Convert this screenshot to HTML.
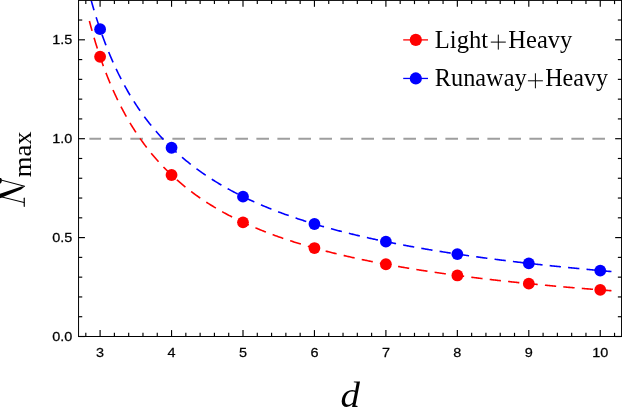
<!DOCTYPE html><html><head><meta charset="utf-8"><title>plot</title><style>html,body{margin:0;padding:0;background:#fff;}svg{display:block;}text{font-family:"Liberation Sans",sans-serif;}</style></head><body>
<svg width="622" height="408" viewBox="0 0 622 408">
<rect x="0" y="0" width="622" height="408" fill="#fff"/>
<defs><clipPath id="c"><rect x="78.55" y="0.40" width="543.00" height="336.10"/></clipPath></defs>
<line x1="89.38" y1="138.70" x2="611.47" y2="138.70" stroke="#9e9e9e" stroke-width="2.0" stroke-dasharray="12.6 8.4" stroke-dashoffset="1.0"/>
<g clip-path="url(#c)" fill="none" stroke-width="1.6">
<path d="M89.38 21.03 L90.25 24.29 L91.12 27.48 L91.99 30.60 L92.86 33.66 L93.73 36.65 L94.60 39.58 L95.47 42.45 L96.34 45.26 L97.21 48.01 L98.08 50.71 L98.95 53.36 L99.82 55.96 L100.69 58.50 L101.56 61.00 L102.43 63.45 L103.30 65.86 L104.17 68.22 L105.05 70.54 L105.92 72.81 L106.79 75.05 L107.66 77.25 L108.53 79.40 L109.40 81.53 L110.27 83.61 L111.14 85.66 L112.01 87.67 L112.88 89.66 L113.75 91.60 L114.62 93.52 L115.49 95.41 L116.36 97.26 L117.23 99.09 L118.10 100.89 L118.97 102.66 L119.84 104.40 L120.71 106.11 L121.58 107.80 L122.45 109.46 L123.32 111.10 L124.19 112.72 L125.06 114.31 L125.93 115.87 L126.80 117.42 L127.67 118.94 L128.54 120.44 L129.41 121.92 L130.28 123.38 L131.15 124.82 L132.02 126.23 L132.89 127.63 L133.76 129.01 L134.63 130.37 L135.50 131.72 L136.37 133.04 L137.24 134.35 L138.11 135.64 L138.98 136.91 L139.85 138.17 L140.72 139.41 L141.59 140.63 L142.46 141.84 L143.33 143.03 L144.20 144.21 L145.07 145.38 L145.94 146.53 L146.81 147.66 L147.68 148.78 L148.55 149.89 L149.42 150.99 L150.29 152.07 L151.16 153.14 L152.03 154.19 L152.90 155.24 L153.77 156.27 L154.64 157.29 L155.51 158.30 L156.38 159.29 L157.25 160.28 L158.12 161.25 L158.99 162.22 L159.86 163.17 L160.73 164.11 L161.60 165.04 L162.47 165.96 L163.34 166.87 L164.21 167.77 L165.08 168.66 L165.95 169.55 L166.83 170.42 L167.70 171.28 L168.57 172.14 L169.44 172.98 L170.31 173.82 L171.18 174.64 L172.05 175.46 L172.92 176.27 L173.79 177.08 L174.66 177.87 L175.53 178.66 L176.40 179.43 L177.27 180.20 L178.14 180.97 L179.01 181.72 L179.88 182.47 L180.75 183.21 L181.62 183.94 L182.49 184.67 L183.36 185.39 L184.23 186.10 L185.10 186.81 L185.97 187.51 L186.84 188.20 L187.71 188.88 L188.58 189.56 L189.45 190.24 L190.32 190.90 L191.19 191.56 L192.06 192.22 L192.93 192.87 L193.80 193.51 L194.67 194.14 L195.54 194.78 L196.41 195.40 L197.28 196.02 L198.15 196.63 L199.02 197.24 L199.89 197.85 L200.76 198.45 L201.63 199.04 L202.50 199.63 L203.37 200.21 L204.24 200.79 L205.11 201.36 L205.98 201.93 L206.85 202.49 L207.72 203.05 L208.59 203.60 L209.46 204.15 L210.33 204.70 L211.20 205.24 L212.07 205.77 L212.94 206.30 L213.81 206.83 L214.68 207.35 L215.55 207.87 L216.42 208.38 L217.29 208.89 L218.16 209.40 L219.03 209.90 L219.90 210.40 L220.77 210.89 L221.64 211.38 L222.51 211.87 L223.38 212.35 L224.25 212.83 L225.12 213.30 L225.99 213.77 L226.86 214.24 L227.74 214.71 L228.61 215.17 L229.48 215.62 L230.35 216.08 L231.22 216.53 L232.09 216.97 L232.96 217.42 L233.83 217.86 L234.70 218.29 L235.57 218.73 L236.44 219.16 L237.31 219.58 L238.18 220.01 L239.05 220.43 L239.92 220.84 L240.79 221.26 L241.66 221.67 L242.53 222.08 L243.40 222.49 L244.27 222.89 L245.14 223.29 L246.01 223.69 L246.88 224.08 L247.75 224.47 L248.62 224.86 L249.49 225.25 L250.36 225.63 L251.23 226.01 L252.10 226.39 L252.97 226.76 L253.84 227.14 L254.71 227.51 L255.58 227.88 L256.45 228.24 L257.32 228.60 L258.19 228.96 L259.06 229.32 L259.93 229.68 L260.80 230.03 L261.67 230.38 L262.54 230.73 L263.41 231.08 L264.28 231.42 L265.15 231.76 L266.02 232.10 L266.89 232.44 L267.76 232.77 L268.63 233.11 L269.50 233.44 L270.37 233.77 L271.24 234.09 L272.11 234.42 L272.98 234.74 L273.85 235.06 L274.72 235.38 L275.59 235.70 L276.46 236.01 L277.33 236.32 L278.20 236.63 L279.07 236.94 L279.94 237.25 L280.81 237.55 L281.68 237.86 L282.55 238.16 L283.42 238.46 L284.29 238.75 L285.16 239.05 L286.03 239.34 L286.90 239.63 L287.77 239.92 L288.64 240.21 L289.52 240.50 L290.39 240.78 L291.26 241.07 L292.13 241.35 L293.00 241.63 L293.87 241.91 L294.74 242.18 L295.61 242.46 L296.48 242.73 L297.35 243.00 L298.22 243.27 L299.09 243.54 L299.96 243.81 L300.83 244.08 L301.70 244.34 L302.57 244.60 L303.44 244.86 L304.31 245.12 L305.18 245.38 L306.05 245.64 L306.92 245.89 L307.79 246.15 L308.66 246.40 L309.53 246.65 L310.40 246.90 L311.27 247.15 L312.14 247.39 L313.01 247.64 L313.88 247.88 L314.75 248.12 L315.62 248.37 L316.49 248.61 L317.36 248.84 L318.23 249.08 L319.10 249.32 L319.97 249.55 L320.84 249.79 L321.71 250.02 L322.58 250.25 L323.45 250.48 L324.32 250.71 L325.19 250.93 L326.06 251.16 L326.93 251.39 L327.80 251.61 L328.67 251.83 L329.54 252.05 L330.41 252.27 L331.28 252.49 L332.15 252.71 L333.02 252.93 L333.89 253.14 L334.76 253.36 L335.63 253.57 L336.50 253.78 L337.37 253.99 L338.24 254.20 L339.11 254.41 L339.98 254.62 L340.85 254.83 L341.72 255.03 L342.59 255.24 L343.46 255.44 L344.33 255.65 L345.20 255.85 L346.07 256.05 L346.94 256.25 L347.81 256.45 L348.68 256.64 L349.55 256.84 L350.43 257.04 L351.30 257.23 L352.17 257.43 L353.04 257.62 L353.91 257.81 L354.78 258.00 L355.65 258.19 L356.52 258.38 L357.39 258.57 L358.26 258.76 L359.13 258.94 L360.00 259.13 L360.87 259.31 L361.74 259.50 L362.61 259.68 L363.48 259.86 L364.35 260.04 L365.22 260.22 L366.09 260.40 L366.96 260.58 L367.83 260.76 L368.70 260.94 L369.57 261.11 L370.44 261.29 L371.31 261.46 L372.18 261.64 L373.05 261.81 L373.92 261.98 L374.79 262.15 L375.66 262.32 L376.53 262.49 L377.40 262.66 L378.27 262.83 L379.14 263.00 L380.01 263.17 L380.88 263.33 L381.75 263.50 L382.62 263.66 L383.49 263.82 L384.36 263.99 L385.23 264.15 L386.10 264.31 L386.97 264.47 L387.84 264.63 L388.71 264.79 L389.58 264.95 L390.45 265.11 L391.32 265.26 L392.19 265.42 L393.06 265.58 L393.93 265.73 L394.80 265.89 L395.67 266.04 L396.54 266.19 L397.41 266.35 L398.28 266.50 L399.15 266.65 L400.02 266.80 L400.89 266.95 L401.76 267.10 L402.63 267.25 L403.50 267.39 L404.37 267.54 L405.24 267.69 L406.11 267.83 L406.98 267.98 L407.85 268.12 L408.72 268.27 L409.59 268.41 L410.46 268.56 L411.34 268.70 L412.21 268.84 L413.08 268.98 L413.95 269.12 L414.82 269.26 L415.69 269.40 L416.56 269.54 L417.43 269.68 L418.30 269.82 L419.17 269.95 L420.04 270.09 L420.91 270.22 L421.78 270.36 L422.65 270.49 L423.52 270.63 L424.39 270.76 L425.26 270.90 L426.13 271.03 L427.00 271.16 L427.87 271.29 L428.74 271.42 L429.61 271.55 L430.48 271.68 L431.35 271.81 L432.22 271.94 L433.09 272.07 L433.96 272.20 L434.83 272.33 L435.70 272.45 L436.57 272.58 L437.44 272.71 L438.31 272.83 L439.18 272.96 L440.05 273.08 L440.92 273.20 L441.79 273.33 L442.66 273.45 L443.53 273.57 L444.40 273.70 L445.27 273.82 L446.14 273.94 L447.01 274.06 L447.88 274.18 L448.75 274.30 L449.62 274.42 L450.49 274.54 L451.36 274.66 L452.23 274.77 L453.10 274.89 L453.97 275.01 L454.84 275.12 L455.71 275.24 L456.58 275.36 L457.45 275.47 L458.32 275.59 L459.19 275.70 L460.06 275.81 L460.93 275.93 L461.80 276.04 L462.67 276.15 L463.54 276.27 L464.41 276.38 L465.28 276.49 L466.15 276.60 L467.02 276.71 L467.89 276.82 L468.76 276.93 L469.63 277.04 L470.50 277.15 L471.37 277.26 L472.24 277.37 L473.12 277.47 L473.99 277.58 L474.86 277.69 L475.73 277.79 L476.60 277.90 L477.47 278.01 L478.34 278.11 L479.21 278.22 L480.08 278.32 L480.95 278.43 L481.82 278.53 L482.69 278.63 L483.56 278.74 L484.43 278.84 L485.30 278.94 L486.17 279.04 L487.04 279.15 L487.91 279.25 L488.78 279.35 L489.65 279.45 L490.52 279.55 L491.39 279.65 L492.26 279.75 L493.13 279.85 L494.00 279.95 L494.87 280.04 L495.74 280.14 L496.61 280.24 L497.48 280.34 L498.35 280.44 L499.22 280.53 L500.09 280.63 L500.96 280.72 L501.83 280.82 L502.70 280.92 L503.57 281.01 L504.44 281.11 L505.31 281.20 L506.18 281.29 L507.05 281.39 L507.92 281.48 L508.79 281.58 L509.66 281.67 L510.53 281.76 L511.40 281.85 L512.27 281.95 L513.14 282.04 L514.01 282.13 L514.88 282.22 L515.75 282.31 L516.62 282.40 L517.49 282.49 L518.36 282.58 L519.23 282.67 L520.10 282.76 L520.97 282.85 L521.84 282.94 L522.71 283.03 L523.58 283.11 L524.45 283.20 L525.32 283.29 L526.19 283.38 L527.06 283.46 L527.93 283.55 L528.80 283.64 L529.67 283.72 L530.54 283.81 L531.41 283.89 L532.28 283.98 L533.15 284.06 L534.03 284.15 L534.90 284.23 L535.77 284.32 L536.64 284.40 L537.51 284.48 L538.38 284.57 L539.25 284.65 L540.12 284.73 L540.99 284.82 L541.86 284.90 L542.73 284.98 L543.60 285.06 L544.47 285.14 L545.34 285.23 L546.21 285.31 L547.08 285.39 L547.95 285.47 L548.82 285.55 L549.69 285.63 L550.56 285.71 L551.43 285.79 L552.30 285.87 L553.17 285.94 L554.04 286.02 L554.91 286.10 L555.78 286.18 L556.65 286.26 L557.52 286.34 L558.39 286.41 L559.26 286.49 L560.13 286.57 L561.00 286.64 L561.87 286.72 L562.74 286.80 L563.61 286.87 L564.48 286.95 L565.35 287.02 L566.22 287.10 L567.09 287.18 L567.96 287.25 L568.83 287.33 L569.70 287.40 L570.57 287.47 L571.44 287.55 L572.31 287.62 L573.18 287.70 L574.05 287.77 L574.92 287.84 L575.79 287.91 L576.66 287.99 L577.53 288.06 L578.40 288.13 L579.27 288.20 L580.14 288.28 L581.01 288.35 L581.88 288.42 L582.75 288.49 L583.62 288.56 L584.49 288.63 L585.36 288.70 L586.23 288.77 L587.10 288.84 L587.97 288.91 L588.84 288.98 L589.71 289.05 L590.58 289.12 L591.45 289.19 L592.32 289.26 L593.19 289.33 L594.06 289.40 L594.93 289.47 L595.81 289.53 L596.68 289.60 L597.55 289.67 L598.42 289.74 L599.29 289.80 L600.16 289.87 L601.03 289.94 L601.90 290.00 L602.77 290.07 L603.64 290.14 L604.51 290.20 L605.38 290.27 L606.25 290.34 L607.12 290.40 L607.99 290.47 L608.86 290.53 L609.73 290.60 L610.60 290.66 L611.47 290.73" stroke="#f00" stroke-dasharray="11.3 7.21" stroke-dashoffset="1.1"/>
<path d="M91.19 0.40 L92.05 3.47 L92.92 6.48 L93.79 9.42 L94.65 12.31 L95.52 15.13 L96.39 17.90 L97.26 20.62 L98.12 23.28 L98.99 25.89 L99.86 28.45 L100.72 30.97 L101.59 33.44 L102.46 35.86 L103.33 38.24 L104.19 40.57 L105.06 42.86 L105.93 45.12 L106.79 47.33 L107.66 49.51 L108.53 51.65 L109.40 53.75 L110.26 55.82 L111.13 57.85 L112.00 59.85 L112.86 61.82 L113.73 63.75 L114.60 65.66 L115.47 67.53 L116.33 69.38 L117.20 71.19 L118.07 72.98 L118.93 74.74 L119.80 76.48 L120.67 78.19 L121.54 79.87 L122.40 81.53 L123.27 83.16 L124.14 84.77 L125.00 86.36 L125.87 87.93 L126.74 89.47 L127.61 90.99 L128.47 92.49 L129.34 93.97 L130.21 95.43 L131.07 96.87 L131.94 98.29 L132.81 99.69 L133.68 101.07 L134.54 102.44 L135.41 103.78 L136.28 105.11 L137.14 106.43 L138.01 107.72 L138.88 109.00 L139.75 110.26 L140.61 111.51 L141.48 112.74 L142.35 113.96 L143.21 115.16 L144.08 116.35 L144.95 117.52 L145.82 118.68 L146.68 119.82 L147.55 120.96 L148.42 122.07 L149.28 123.18 L150.15 124.27 L151.02 125.35 L151.89 126.42 L152.75 127.47 L153.62 128.52 L154.49 129.55 L155.35 130.57 L156.22 131.58 L157.09 132.58 L157.96 133.56 L158.82 134.54 L159.69 135.50 L160.56 136.46 L161.42 137.40 L162.29 138.34 L163.16 139.26 L164.03 140.18 L164.89 141.09 L165.76 141.98 L166.63 142.87 L167.49 143.75 L168.36 144.62 L169.23 145.48 L170.10 146.33 L170.96 147.17 L171.83 148.01 L172.70 148.83 L173.56 149.65 L174.43 150.46 L175.30 151.27 L176.17 152.06 L177.03 152.85 L177.90 153.63 L178.77 154.40 L179.63 155.17 L180.50 155.92 L181.37 156.67 L182.24 157.42 L183.10 158.15 L183.97 158.88 L184.84 159.61 L185.70 160.32 L186.57 161.04 L187.44 161.74 L188.31 162.44 L189.17 163.13 L190.04 163.81 L190.91 164.49 L191.77 165.16 L192.64 165.83 L193.51 166.49 L194.38 167.15 L195.24 167.80 L196.11 168.44 L196.98 169.08 L197.84 169.71 L198.71 170.34 L199.58 170.97 L200.44 171.58 L201.31 172.20 L202.18 172.80 L203.05 173.40 L203.91 174.00 L204.78 174.59 L205.65 175.18 L206.51 175.76 L207.38 176.34 L208.25 176.92 L209.12 177.48 L209.98 178.05 L210.85 178.61 L211.72 179.16 L212.58 179.71 L213.45 180.26 L214.32 180.80 L215.19 181.34 L216.05 181.87 L216.92 182.40 L217.79 182.93 L218.65 183.45 L219.52 183.97 L220.39 184.48 L221.26 184.99 L222.12 185.50 L222.99 186.00 L223.86 186.50 L224.72 187.00 L225.59 187.49 L226.46 187.97 L227.33 188.46 L228.19 188.94 L229.06 189.42 L229.93 189.89 L230.79 190.36 L231.66 190.83 L232.53 191.29 L233.40 191.75 L234.26 192.21 L235.13 192.66 L236.00 193.11 L236.86 193.56 L237.73 194.00 L238.60 194.44 L239.47 194.88 L240.33 195.32 L241.20 195.75 L242.07 196.18 L242.93 196.60 L243.80 197.03 L244.67 197.45 L245.54 197.86 L246.40 198.28 L247.27 198.69 L248.14 199.10 L249.00 199.51 L249.87 199.91 L250.74 200.31 L251.61 200.71 L252.47 201.10 L253.34 201.50 L254.21 201.89 L255.07 202.28 L255.94 202.66 L256.81 203.04 L257.68 203.42 L258.54 203.80 L259.41 204.18 L260.28 204.55 L261.14 204.92 L262.01 205.29 L262.88 205.66 L263.75 206.02 L264.61 206.38 L265.48 206.74 L266.35 207.10 L267.21 207.46 L268.08 207.81 L268.95 208.16 L269.82 208.51 L270.68 208.86 L271.55 209.20 L272.42 209.54 L273.28 209.88 L274.15 210.22 L275.02 210.56 L275.89 210.89 L276.75 211.22 L277.62 211.55 L278.49 211.88 L279.35 212.21 L280.22 212.53 L281.09 212.85 L281.96 213.18 L282.82 213.49 L283.69 213.81 L284.56 214.13 L285.42 214.44 L286.29 214.75 L287.16 215.06 L288.03 215.37 L288.89 215.67 L289.76 215.98 L290.63 216.28 L291.49 216.58 L292.36 216.88 L293.23 217.18 L294.10 217.48 L294.96 217.77 L295.83 218.06 L296.70 218.35 L297.56 218.64 L298.43 218.93 L299.30 219.22 L300.17 219.50 L301.03 219.79 L301.90 220.07 L302.77 220.35 L303.63 220.63 L304.50 220.90 L305.37 221.18 L306.24 221.45 L307.10 221.73 L307.97 222.00 L308.84 222.27 L309.70 222.53 L310.57 222.80 L311.44 223.07 L312.31 223.33 L313.17 223.59 L314.04 223.86 L314.91 224.12 L315.77 224.37 L316.64 224.63 L317.51 224.89 L318.38 225.14 L319.24 225.40 L320.11 225.65 L320.98 225.90 L321.84 226.15 L322.71 226.40 L323.58 226.64 L324.45 226.89 L325.31 227.13 L326.18 227.38 L327.05 227.62 L327.91 227.86 L328.78 228.10 L329.65 228.34 L330.52 228.58 L331.38 228.81 L332.25 229.05 L333.12 229.28 L333.98 229.51 L334.85 229.75 L335.72 229.98 L336.59 230.20 L337.45 230.43 L338.32 230.66 L339.19 230.89 L340.05 231.11 L340.92 231.34 L341.79 231.56 L342.66 231.78 L343.52 232.00 L344.39 232.22 L345.26 232.44 L346.12 232.66 L346.99 232.87 L347.86 233.09 L348.73 233.30 L349.59 233.52 L350.46 233.73 L351.33 233.94 L352.19 234.15 L353.06 234.36 L353.93 234.57 L354.80 234.78 L355.66 234.98 L356.53 235.19 L357.40 235.39 L358.26 235.60 L359.13 235.80 L360.00 236.00 L360.87 236.20 L361.73 236.40 L362.60 236.60 L363.47 236.80 L364.33 237.00 L365.20 237.20 L366.07 237.39 L366.94 237.59 L367.80 237.78 L368.67 237.97 L369.54 238.17 L370.40 238.36 L371.27 238.55 L372.14 238.74 L373.01 238.93 L373.87 239.12 L374.74 239.30 L375.61 239.49 L376.47 239.68 L377.34 239.86 L378.21 240.05 L379.08 240.23 L379.94 240.41 L380.81 240.59 L381.68 240.77 L382.54 240.95 L383.41 241.13 L384.28 241.31 L385.15 241.49 L386.01 241.67 L386.88 241.84 L387.75 242.02 L388.61 242.20 L389.48 242.37 L390.35 242.54 L391.21 242.72 L392.08 242.89 L392.95 243.06 L393.82 243.23 L394.68 243.40 L395.55 243.57 L396.42 243.74 L397.28 243.91 L398.15 244.07 L399.02 244.24 L399.89 244.41 L400.75 244.57 L401.62 244.74 L402.49 244.90 L403.35 245.06 L404.22 245.23 L405.09 245.39 L405.96 245.55 L406.82 245.71 L407.69 245.87 L408.56 246.03 L409.42 246.19 L410.29 246.35 L411.16 246.50 L412.03 246.66 L412.89 246.82 L413.76 246.97 L414.63 247.13 L415.49 247.28 L416.36 247.44 L417.23 247.59 L418.10 247.74 L418.96 247.89 L419.83 248.05 L420.70 248.20 L421.56 248.35 L422.43 248.50 L423.30 248.65 L424.17 248.79 L425.03 248.94 L425.90 249.09 L426.77 249.24 L427.63 249.38 L428.50 249.53 L429.37 249.67 L430.24 249.82 L431.10 249.96 L431.97 250.11 L432.84 250.25 L433.70 250.39 L434.57 250.53 L435.44 250.68 L436.31 250.82 L437.17 250.96 L438.04 251.10 L438.91 251.24 L439.77 251.38 L440.64 251.51 L441.51 251.65 L442.38 251.79 L443.24 251.93 L444.11 252.06 L444.98 252.20 L445.84 252.33 L446.71 252.47 L447.58 252.60 L448.45 252.74 L449.31 252.87 L450.18 253.00 L451.05 253.14 L451.91 253.27 L452.78 253.40 L453.65 253.53 L454.52 253.66 L455.38 253.79 L456.25 253.92 L457.12 254.05 L457.98 254.18 L458.85 254.31 L459.72 254.43 L460.59 254.56 L461.45 254.69 L462.32 254.82 L463.19 254.94 L464.05 255.07 L464.92 255.19 L465.79 255.32 L466.66 255.44 L467.52 255.57 L468.39 255.69 L469.26 255.81 L470.12 255.93 L470.99 256.06 L471.86 256.18 L472.73 256.30 L473.59 256.42 L474.46 256.54 L475.33 256.66 L476.19 256.78 L477.06 256.90 L477.93 257.02 L478.80 257.14 L479.66 257.26 L480.53 257.37 L481.40 257.49 L482.26 257.61 L483.13 257.73 L484.00 257.84 L484.87 257.96 L485.73 258.07 L486.60 258.19 L487.47 258.30 L488.33 258.42 L489.20 258.53 L490.07 258.64 L490.94 258.76 L491.80 258.87 L492.67 258.98 L493.54 259.09 L494.40 259.21 L495.27 259.32 L496.14 259.43 L497.01 259.54 L497.87 259.65 L498.74 259.76 L499.61 259.87 L500.47 259.98 L501.34 260.09 L502.21 260.19 L503.08 260.30 L503.94 260.41 L504.81 260.52 L505.68 260.62 L506.54 260.73 L507.41 260.84 L508.28 260.94 L509.15 261.05 L510.01 261.16 L510.88 261.26 L511.75 261.36 L512.61 261.47 L513.48 261.57 L514.35 261.68 L515.22 261.78 L516.08 261.88 L516.95 261.99 L517.82 262.09 L518.68 262.19 L519.55 262.29 L520.42 262.39 L521.29 262.50 L522.15 262.60 L523.02 262.70 L523.89 262.80 L524.75 262.90 L525.62 263.00 L526.49 263.10 L527.36 263.20 L528.22 263.29 L529.09 263.39 L529.96 263.49 L530.82 263.59 L531.69 263.69 L532.56 263.78 L533.43 263.88 L534.29 263.98 L535.16 264.07 L536.03 264.17 L536.89 264.27 L537.76 264.36 L538.63 264.46 L539.50 264.55 L540.36 264.65 L541.23 264.74 L542.10 264.83 L542.96 264.93 L543.83 265.02 L544.70 265.11 L545.57 265.21 L546.43 265.30 L547.30 265.39 L548.17 265.48 L549.03 265.58 L549.90 265.67 L550.77 265.76 L551.64 265.85 L552.50 265.94 L553.37 266.03 L554.24 266.12 L555.10 266.21 L555.97 266.30 L556.84 266.39 L557.71 266.48 L558.57 266.57 L559.44 266.66 L560.31 266.75 L561.17 266.84 L562.04 266.92 L562.91 267.01 L563.78 267.10 L564.64 267.19 L565.51 267.27 L566.38 267.36 L567.24 267.45 L568.11 267.53 L568.98 267.62 L569.85 267.70 L570.71 267.79 L571.58 267.88 L572.45 267.96 L573.31 268.05 L574.18 268.13 L575.05 268.21 L575.92 268.30 L576.78 268.38 L577.65 268.47 L578.52 268.55 L579.38 268.63 L580.25 268.72 L581.12 268.80 L581.99 268.88 L582.85 268.96 L583.72 269.04 L584.59 269.13 L585.45 269.21 L586.32 269.29 L587.19 269.37 L588.05 269.45 L588.92 269.53 L589.79 269.61 L590.66 269.69 L591.52 269.77 L592.39 269.85 L593.26 269.93 L594.12 270.01 L594.99 270.09 L595.86 270.17 L596.73 270.25 L597.59 270.33 L598.46 270.41 L599.33 270.48 L600.19 270.56 L601.06 270.64 L601.93 270.72 L602.80 270.79 L603.66 270.87 L604.53 270.95 L605.40 271.02 L606.26 271.10 L607.13 271.18 L608.00 271.25 L608.87 271.33 L609.73 271.41 L610.60 271.48 L611.47 271.56" stroke="#00f" stroke-dasharray="11.3 7.205" stroke-dashoffset="1.0"/>
</g>
<circle cx="100.10" cy="56.77" r="5.9" fill="#f00"/>
<circle cx="100.10" cy="29.16" r="5.9" fill="#00f"/>
<circle cx="171.55" cy="175.00" r="5.9" fill="#f00"/>
<circle cx="171.55" cy="147.74" r="5.9" fill="#00f"/>
<circle cx="243.00" cy="222.30" r="5.9" fill="#f00"/>
<circle cx="243.00" cy="196.63" r="5.9" fill="#00f"/>
<circle cx="314.45" cy="248.04" r="5.9" fill="#f00"/>
<circle cx="314.45" cy="223.98" r="5.9" fill="#00f"/>
<circle cx="385.90" cy="264.27" r="5.9" fill="#f00"/>
<circle cx="385.90" cy="241.65" r="5.9" fill="#00f"/>
<circle cx="457.35" cy="275.46" r="5.9" fill="#f00"/>
<circle cx="457.35" cy="254.08" r="5.9" fill="#00f"/>
<circle cx="528.80" cy="283.64" r="5.9" fill="#f00"/>
<circle cx="528.80" cy="263.36" r="5.9" fill="#00f"/>
<circle cx="600.25" cy="289.88" r="5.9" fill="#f00"/>
<circle cx="600.25" cy="270.57" r="5.9" fill="#00f"/>
<g stroke="#000" stroke-width="1.0" fill="none">
<rect x="78.55" y="0.40" width="543.00" height="336.10"/>
<g stroke-width="1.15">
<line x1="85.81" y1="336.50" x2="85.81" y2="332.80"/>
<line x1="85.81" y1="0.40" x2="85.81" y2="4.10"/>
<line x1="100.10" y1="336.50" x2="100.10" y2="330.10"/>
<line x1="100.10" y1="0.40" x2="100.10" y2="6.80"/>
<line x1="114.39" y1="336.50" x2="114.39" y2="332.80"/>
<line x1="114.39" y1="0.40" x2="114.39" y2="4.10"/>
<line x1="128.68" y1="336.50" x2="128.68" y2="332.80"/>
<line x1="128.68" y1="0.40" x2="128.68" y2="4.10"/>
<line x1="142.97" y1="336.50" x2="142.97" y2="332.80"/>
<line x1="142.97" y1="0.40" x2="142.97" y2="4.10"/>
<line x1="157.26" y1="336.50" x2="157.26" y2="332.80"/>
<line x1="157.26" y1="0.40" x2="157.26" y2="4.10"/>
<line x1="171.55" y1="336.50" x2="171.55" y2="330.10"/>
<line x1="171.55" y1="0.40" x2="171.55" y2="6.80"/>
<line x1="185.84" y1="336.50" x2="185.84" y2="332.80"/>
<line x1="185.84" y1="0.40" x2="185.84" y2="4.10"/>
<line x1="200.13" y1="336.50" x2="200.13" y2="332.80"/>
<line x1="200.13" y1="0.40" x2="200.13" y2="4.10"/>
<line x1="214.42" y1="336.50" x2="214.42" y2="332.80"/>
<line x1="214.42" y1="0.40" x2="214.42" y2="4.10"/>
<line x1="228.71" y1="336.50" x2="228.71" y2="332.80"/>
<line x1="228.71" y1="0.40" x2="228.71" y2="4.10"/>
<line x1="243.00" y1="336.50" x2="243.00" y2="330.10"/>
<line x1="243.00" y1="0.40" x2="243.00" y2="6.80"/>
<line x1="257.29" y1="336.50" x2="257.29" y2="332.80"/>
<line x1="257.29" y1="0.40" x2="257.29" y2="4.10"/>
<line x1="271.58" y1="336.50" x2="271.58" y2="332.80"/>
<line x1="271.58" y1="0.40" x2="271.58" y2="4.10"/>
<line x1="285.87" y1="336.50" x2="285.87" y2="332.80"/>
<line x1="285.87" y1="0.40" x2="285.87" y2="4.10"/>
<line x1="300.16" y1="336.50" x2="300.16" y2="332.80"/>
<line x1="300.16" y1="0.40" x2="300.16" y2="4.10"/>
<line x1="314.45" y1="336.50" x2="314.45" y2="330.10"/>
<line x1="314.45" y1="0.40" x2="314.45" y2="6.80"/>
<line x1="328.74" y1="336.50" x2="328.74" y2="332.80"/>
<line x1="328.74" y1="0.40" x2="328.74" y2="4.10"/>
<line x1="343.03" y1="336.50" x2="343.03" y2="332.80"/>
<line x1="343.03" y1="0.40" x2="343.03" y2="4.10"/>
<line x1="357.32" y1="336.50" x2="357.32" y2="332.80"/>
<line x1="357.32" y1="0.40" x2="357.32" y2="4.10"/>
<line x1="371.61" y1="336.50" x2="371.61" y2="332.80"/>
<line x1="371.61" y1="0.40" x2="371.61" y2="4.10"/>
<line x1="385.90" y1="336.50" x2="385.90" y2="330.10"/>
<line x1="385.90" y1="0.40" x2="385.90" y2="6.80"/>
<line x1="400.19" y1="336.50" x2="400.19" y2="332.80"/>
<line x1="400.19" y1="0.40" x2="400.19" y2="4.10"/>
<line x1="414.48" y1="336.50" x2="414.48" y2="332.80"/>
<line x1="414.48" y1="0.40" x2="414.48" y2="4.10"/>
<line x1="428.77" y1="336.50" x2="428.77" y2="332.80"/>
<line x1="428.77" y1="0.40" x2="428.77" y2="4.10"/>
<line x1="443.06" y1="336.50" x2="443.06" y2="332.80"/>
<line x1="443.06" y1="0.40" x2="443.06" y2="4.10"/>
<line x1="457.35" y1="336.50" x2="457.35" y2="330.10"/>
<line x1="457.35" y1="0.40" x2="457.35" y2="6.80"/>
<line x1="471.64" y1="336.50" x2="471.64" y2="332.80"/>
<line x1="471.64" y1="0.40" x2="471.64" y2="4.10"/>
<line x1="485.93" y1="336.50" x2="485.93" y2="332.80"/>
<line x1="485.93" y1="0.40" x2="485.93" y2="4.10"/>
<line x1="500.22" y1="336.50" x2="500.22" y2="332.80"/>
<line x1="500.22" y1="0.40" x2="500.22" y2="4.10"/>
<line x1="514.51" y1="336.50" x2="514.51" y2="332.80"/>
<line x1="514.51" y1="0.40" x2="514.51" y2="4.10"/>
<line x1="528.80" y1="336.50" x2="528.80" y2="330.10"/>
<line x1="528.80" y1="0.40" x2="528.80" y2="6.80"/>
<line x1="543.09" y1="336.50" x2="543.09" y2="332.80"/>
<line x1="543.09" y1="0.40" x2="543.09" y2="4.10"/>
<line x1="557.38" y1="336.50" x2="557.38" y2="332.80"/>
<line x1="557.38" y1="0.40" x2="557.38" y2="4.10"/>
<line x1="571.67" y1="336.50" x2="571.67" y2="332.80"/>
<line x1="571.67" y1="0.40" x2="571.67" y2="4.10"/>
<line x1="585.96" y1="336.50" x2="585.96" y2="332.80"/>
<line x1="585.96" y1="0.40" x2="585.96" y2="4.10"/>
<line x1="600.25" y1="336.50" x2="600.25" y2="330.10"/>
<line x1="600.25" y1="0.40" x2="600.25" y2="6.80"/>
<line x1="614.54" y1="336.50" x2="614.54" y2="332.80"/>
<line x1="614.54" y1="0.40" x2="614.54" y2="4.10"/>
<line x1="78.55" y1="336.50" x2="84.95" y2="336.50"/>
<line x1="621.55" y1="336.50" x2="615.15" y2="336.50"/>
<line x1="78.55" y1="316.72" x2="82.25" y2="316.72"/>
<line x1="621.55" y1="316.72" x2="617.85" y2="316.72"/>
<line x1="78.55" y1="296.94" x2="82.25" y2="296.94"/>
<line x1="621.55" y1="296.94" x2="617.85" y2="296.94"/>
<line x1="78.55" y1="277.16" x2="82.25" y2="277.16"/>
<line x1="621.55" y1="277.16" x2="617.85" y2="277.16"/>
<line x1="78.55" y1="257.38" x2="82.25" y2="257.38"/>
<line x1="621.55" y1="257.38" x2="617.85" y2="257.38"/>
<line x1="78.55" y1="237.60" x2="84.95" y2="237.60"/>
<line x1="621.55" y1="237.60" x2="615.15" y2="237.60"/>
<line x1="78.55" y1="217.82" x2="82.25" y2="217.82"/>
<line x1="621.55" y1="217.82" x2="617.85" y2="217.82"/>
<line x1="78.55" y1="198.04" x2="82.25" y2="198.04"/>
<line x1="621.55" y1="198.04" x2="617.85" y2="198.04"/>
<line x1="78.55" y1="178.26" x2="82.25" y2="178.26"/>
<line x1="621.55" y1="178.26" x2="617.85" y2="178.26"/>
<line x1="78.55" y1="158.48" x2="82.25" y2="158.48"/>
<line x1="621.55" y1="158.48" x2="617.85" y2="158.48"/>
<line x1="78.55" y1="138.70" x2="84.95" y2="138.70"/>
<line x1="621.55" y1="138.70" x2="615.15" y2="138.70"/>
<line x1="78.55" y1="118.92" x2="82.25" y2="118.92"/>
<line x1="621.55" y1="118.92" x2="617.85" y2="118.92"/>
<line x1="78.55" y1="99.14" x2="82.25" y2="99.14"/>
<line x1="621.55" y1="99.14" x2="617.85" y2="99.14"/>
<line x1="78.55" y1="79.36" x2="82.25" y2="79.36"/>
<line x1="621.55" y1="79.36" x2="617.85" y2="79.36"/>
<line x1="78.55" y1="59.58" x2="82.25" y2="59.58"/>
<line x1="621.55" y1="59.58" x2="617.85" y2="59.58"/>
<line x1="78.55" y1="39.80" x2="84.95" y2="39.80"/>
<line x1="621.55" y1="39.80" x2="615.15" y2="39.80"/>
<line x1="78.55" y1="20.02" x2="82.25" y2="20.02"/>
<line x1="621.55" y1="20.02" x2="617.85" y2="20.02"/>
</g></g>
<g font-size="13.5" fill="#000" stroke="#000" stroke-width="0.25" opacity="0.999">
<text transform="translate(100.10,357.20) scale(1.07,1)" text-anchor="middle">3</text>
<text transform="translate(171.55,357.20) scale(1.07,1)" text-anchor="middle">4</text>
<text transform="translate(243.00,357.20) scale(1.07,1)" text-anchor="middle">5</text>
<text transform="translate(314.45,357.20) scale(1.07,1)" text-anchor="middle">6</text>
<text transform="translate(385.90,357.20) scale(1.07,1)" text-anchor="middle">7</text>
<text transform="translate(457.35,357.20) scale(1.07,1)" text-anchor="middle">8</text>
<text transform="translate(528.80,357.20) scale(1.07,1)" text-anchor="middle">9</text>
<text transform="translate(600.25,357.20) scale(1.07,1)" text-anchor="middle">10</text>
<text transform="translate(72.20,341.10) scale(1.07,1)" text-anchor="end">0.0</text>
<text transform="translate(72.20,242.20) scale(1.07,1)" text-anchor="end">0.5</text>
<text transform="translate(72.20,143.30) scale(1.07,1)" text-anchor="end">1.0</text>
<text transform="translate(72.20,44.40) scale(1.07,1)" text-anchor="end">1.5</text>
</g>
<g opacity="0.999">
<line x1="403.2" y1="39.90" x2="428" y2="39.90" stroke="#f00" stroke-width="1.3"/>
<circle cx="415.8" cy="39.90" r="6.1" fill="#f00"/>
<text x="434.80" y="47.60" style="font-family:'Liberation Serif',serif" font-size="24.2" textLength="53.3" lengthAdjust="spacingAndGlyphs" fill="#000">Light</text>
<text x="508.30" y="47.60" style="font-family:'Liberation Serif',serif" font-size="24.2" textLength="64.0" lengthAdjust="spacingAndGlyphs" fill="#000">Heavy</text>
<path d="M490.80 42.10 H505.80 M498.30 34.60 V49.60" stroke="#000" stroke-width="1.0" fill="none"/>
<line x1="403.2" y1="78.45" x2="428" y2="78.45" stroke="#00f" stroke-width="1.3"/>
<circle cx="415.8" cy="78.45" r="6.1" fill="#00f"/>
<text x="434.80" y="86.30" style="font-family:'Liberation Serif',serif" font-size="24.2" textLength="91.8" lengthAdjust="spacingAndGlyphs" fill="#000">Runaway</text>
<text x="545.20" y="86.30" style="font-family:'Liberation Serif',serif" font-size="24.2" textLength="63.0" lengthAdjust="spacingAndGlyphs" fill="#000">Heavy</text>
<path d="M527.90 80.80 H542.90 M535.40 73.30 V88.30" stroke="#000" stroke-width="1.0" fill="none"/>
<text transform="translate(350.30,407.10) scale(1.08,1)" text-anchor="middle" style="font-family:'Liberation Serif',serif;font-style:italic" font-size="36" fill="#000">d</text>
<g fill="#000" stroke="none">
<polygon points="-1,194.1 21.5,186.6 25.1,186.15 21.0,189.5 -1,198.6"/>
<polygon points="-1,177.2 0.6,177.6 1.7,178.9 1.7,182.0 0.6,183.4 -1,183.9"/>
</g>
<g fill="none" stroke="#000" stroke-width="1.05" stroke-linecap="round">
<line x1="-1" y1="179.45" x2="24.6" y2="186.2"/>
<line x1="-1" y1="196.25" x2="24.1" y2="202.45"/>
<line x1="24.25" y1="198.2" x2="24.25" y2="206.3" stroke-width="1.2"/>
</g>
<g transform="translate(24.40,209.80) rotate(-90)">
<text x="32.60" y="6.50" style="font-family:'Liberation Serif',serif" font-size="25.8" fill="#000" textLength="45.7" lengthAdjust="spacingAndGlyphs">max</text>
</g>
</g>
</svg></body></html>
